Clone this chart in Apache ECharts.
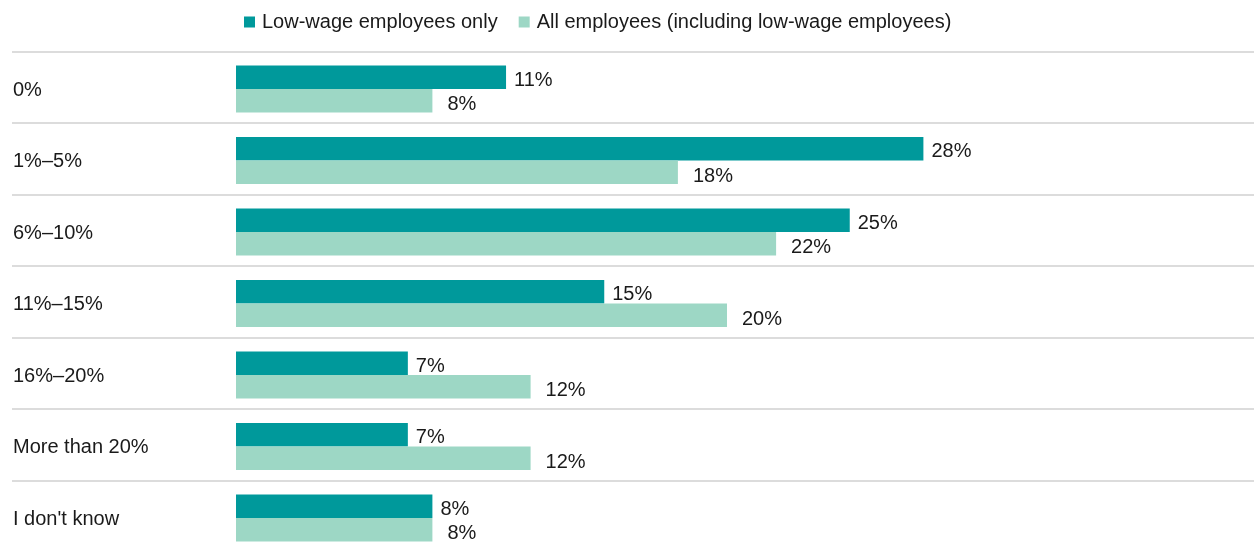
<!DOCTYPE html>
<html>
<head>
<meta charset="utf-8">
<script src="https://cdn.jsdelivr.net/npm/echarts@6/dist/echarts.min.js"></script>
<style>
html,body{margin:0;padding:0;background:#fff;}
#c{width:1254px;height:548px;}
</style>
</head>
<body>
<div id="c"></div>
<script>
const categories = ['0%', '1%–5%', '6%–10%', '11%–15%', '16%–20%', 'More than 20%', "I don't know"];
const lowWage = [11, 28, 25, 15, 7, 7, 8];
const allEmp = [8, 18, 22, 20, 12, 12, 8];
const seriesNames = ['Low-wage employees only', 'All employees (including low-wage employees)'];

const FONT = '"Liberation Sans", Arial, sans-serif';
const TXT = '#1a1a1a';
const chart = echarts.init(document.getElementById('c'), null, {renderer: 'canvas'});
chart.setOption({
  animation: false,
  backgroundColor: '#fff',
  legend: {
    left: 239, top: 7,
    itemWidth: 11, itemHeight: 11, itemGap: 21,
    icon: 'rect',
    textStyle: {fontFamily: FONT, fontSize: 20, color: TXT, padding: [0, 0, 0, 2]},
    data: seriesNames
  },
  grid: [
    {left: 12, right: 0, top: 51.7, height: 500.5, outerBoundsMode: 'none', containLabel: false},
    {left: 236, right: 281.5, top: 53.2, height: 500.5, outerBoundsMode: 'none', containLabel: false}
  ],
  xAxis: [
    {gridIndex: 0, type: 'value', min: 0, max: 1, show: false},
    {gridIndex: 1, type: 'value', min: 0, max: 30, show: false}
  ],
  yAxis: [
    {
      gridIndex: 0, type: 'category', inverse: true, data: categories,
      axisLine: {show: false}, axisTick: {show: false},
      splitLine: {show: true, lineStyle: {color: '#dcdcdc', width: 2}},
      axisLabel: {inside: true, margin: 1, align: 'left',
        formatter: '{a|{value}}',
        rich: {a: {fontFamily: FONT, fontSize: 20, color: TXT, padding: [6, 0, 0, 0]}},
        fontFamily: FONT, fontSize: 20, color: TXT}
    },
    {
      gridIndex: 1, type: 'category', inverse: true, data: categories,
      show: false
    }
  ],
  series: [
    {
      name: seriesNames[0], type: 'bar', xAxisIndex: 1, yAxisIndex: 1,
      data: lowWage, barWidth: 23.5, barGap: '0%',
      itemStyle: {color: '#00999b'},
      label: {show: true, position: 'right', distance: 8, offset: [0, 3], formatter: '{c}%',
        fontFamily: FONT, fontSize: 20, color: TXT}
    },
    {
      name: seriesNames[1], type: 'bar', xAxisIndex: 1, yAxisIndex: 1,
      data: allEmp, barWidth: 23.5, barGap: '0%',
      itemStyle: {color: '#9dd7c5'},
      label: {show: true, position: 'right', distance: 15, offset: [0, 4], formatter: '{c}%',
        fontFamily: FONT, fontSize: 20, color: TXT}
    }
  ]
});
</script>
</body>
</html>
